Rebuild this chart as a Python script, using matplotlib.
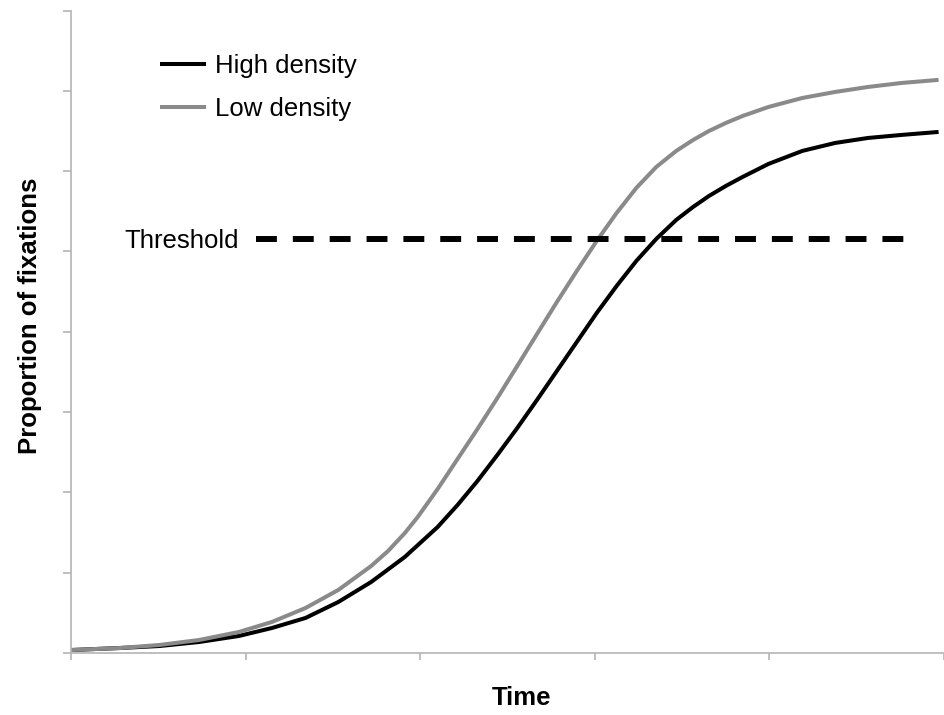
import matplotlib
matplotlib.use("Agg")
import matplotlib.pyplot as plt

plt.rcParams['font.family'] = ['Liberation Sans', 'DejaVu Sans']

# Time (arbitrary units, tick spacing = 1); proportion of fixations
high_t = [0.000, 0.279, 0.507, 0.734, 0.962, 1.150, 1.343, 1.531, 1.719, 1.912, 2.100,
          2.214, 2.328, 2.442, 2.556, 2.669, 2.783, 2.897, 3.011, 3.125, 3.238, 3.352,
          3.466, 3.563, 3.654, 3.751, 3.847, 3.995, 4.189, 4.377, 4.565, 4.758, 4.969]
high_y = [0.0037, 0.0062, 0.0087, 0.0137, 0.0212, 0.0311, 0.0436, 0.0635, 0.0884, 0.1196, 0.1569,
          0.1843, 0.2142, 0.2466, 0.2802, 0.3151, 0.3512, 0.3873, 0.4234, 0.4570, 0.4882, 0.5156,
          0.5392, 0.5554, 0.5691, 0.5816, 0.5928, 0.6090, 0.6252, 0.6351, 0.6413, 0.6451, 0.6488]

low_t = [0.000, 0.279, 0.507, 0.734, 0.962, 1.150, 1.343, 1.531, 1.719, 1.816, 1.912,
         1.986, 2.100, 2.214, 2.328, 2.442, 2.556, 2.669, 2.783, 2.897, 3.011, 3.125,
         3.238, 3.352, 3.466, 3.563, 3.654, 3.751, 3.847, 3.995, 4.189, 4.377, 4.565,
         4.758, 4.969]
low_y = [0.0037, 0.0062, 0.0100, 0.0162, 0.0262, 0.0386, 0.0560, 0.0785, 0.1083, 0.1270, 0.1494,
         0.1694, 0.2042, 0.2416, 0.2789, 0.3175, 0.3574, 0.3972, 0.4371, 0.4757, 0.5131, 0.5479,
         0.5791, 0.6052, 0.6251, 0.6388, 0.6500, 0.6600, 0.6687, 0.6799, 0.6911, 0.6986, 0.7048,
         0.7098, 0.7136]

threshold_y = 0.516
threshold_t = [1.06, 4.79]

x_ticks = [0, 1, 2, 3, 4, 5]
y_ticks = [0.0, 0.1, 0.2, 0.3, 0.4, 0.5, 0.6, 0.7, 0.8]

fig = plt.figure(figsize=(9.44, 7.15), dpi=100)
ax = fig.add_axes([71/944, 1 - 653/715, 1 - 71/944, (653 - 10.5)/715])

ax.plot(high_t, high_y, color='black', lw=2.9, label='High density',
        solid_joinstyle='round', solid_capstyle='butt')
ax.plot(low_t, low_y, color='#8a8a8a', lw=2.9, label='Low density',
        solid_joinstyle='round', solid_capstyle='butt')
ax.plot(threshold_t, [threshold_y, threshold_y], color='black', lw=4.3,
        dashes=(3.5, 2.67), dash_capstyle='butt')
ax.text(0.962, 0.504, 'Threshold', ha='right', va='baseline', fontsize=18.5)

ax.set_xlim(0, (944 - 71) / 175.7)
ax.set_ylim(0, 0.8)
ax.set_xticks(x_ticks)
ax.set_yticks(y_ticks)
ax.set_xticklabels([])
ax.set_yticklabels([])
for s in ['top', 'right']:
    ax.spines[s].set_visible(False)
for s in ['left', 'bottom']:
    ax.spines[s].set_color('#b4b4b4')
    ax.spines[s].set_linewidth(1.2)
ax.tick_params(axis='both', direction='out', color='#b4b4b4', width=1.2)
ax.tick_params(axis='y', length=5.8)
ax.tick_params(axis='x', length=5.0)

ax.set_xlabel('Time', fontsize=18.5, fontweight='bold')
ax.set_ylabel('Proportion of fixations', fontsize=18.5, fontweight='bold')
ax.xaxis.set_label_coords((522 - 71) / 873, (653 - 686) / 642.5)
ax.yaxis.set_label_coords((42 - 71) / 873, (653 - 316) / 642.5)

leg = ax.legend(loc='upper left', bbox_to_anchor=(160/944, 1 - 54/715),
                bbox_transform=fig.transFigure, frameon=False, fontsize=18.5,
                handlelength=1.8, handletextpad=0.35, labelspacing=0.75,
                borderpad=0, borderaxespad=0)

fig.savefig('out.png', dpi=100)
